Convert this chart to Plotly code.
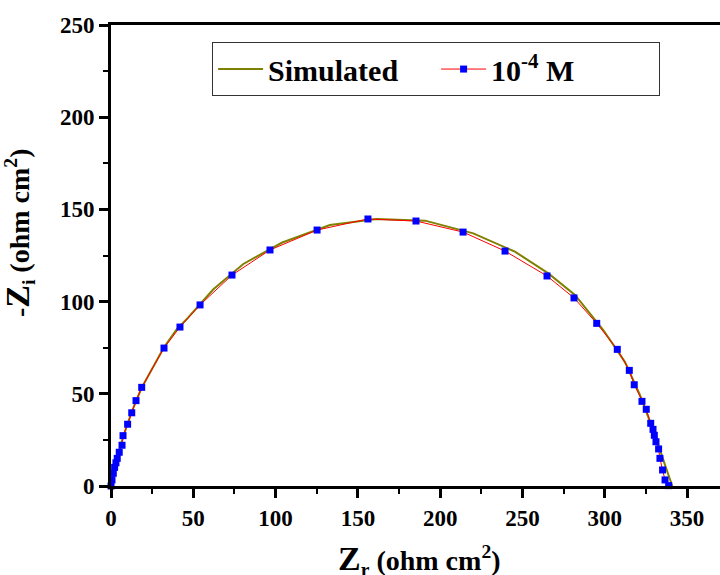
import plotly.graph_objects as go

# Simulated (fit) curve
sim_zr = [0, 3.6, 7.5, 12.5, 18.5, 25.0, 32.0, 40.0, 46.4, 62.2, 80.4, 103.7, 133.0, 161.4, 190.8,
          220.1, 245.4, 265.7, 281.9, 299.1, 312.3, 321.4, 330.5, 336.6, 341.0]
sim_zi = [0, 15.0, 27.0, 40.0, 53.0, 64.0, 75.0, 85.0, 90.9, 106.7, 120.4, 131.9, 141.5, 144.8, 143.9,
          137.0, 127.1, 115.3, 103.6, 84.6, 67.2, 49.3, 27.7, 11.4, 0]

# Experimental data 10^-4 M
exp_zr = [0, 0.6, 1.4, 2.2, 3.0, 3.8, 5.0, 6.7, 7.3, 10.1, 12.6, 15.2, 18.65, 32.2, 41.9,
          54.1, 73.5, 96.6, 125.2, 156.1, 185.3, 213.9, 239.4, 264.9, 281.3, 295.1, 307.6,
          314.9, 317.9, 322.6, 325.2, 327.9, 329.3, 330.1, 331.1, 332.7, 333.5, 335.1, 336.6, 338.8]
exp_zi = [0, 3.3, 6.9, 10.1, 12.6, 15.0, 18.3, 22.1, 27.3, 33.5, 39.7, 46.3, 53.5, 74.8, 86.2,
          98.2, 114.4, 128.0, 138.8, 144.8, 143.7, 137.7, 127.4, 113.9, 102.0, 88.2, 74.1,
          62.7, 54.9, 45.9, 41.6, 34.0, 30.7, 27.5, 24.0, 20.1, 15.0, 8.7, 3.3, 0.2]

x_ticks = [0, 50, 100, 150, 200, 250, 300, 350]
y_ticks = [0, 50, 100, 150, 200, 250]

FONT = "Liberation Serif, Times New Roman, serif"

fig = go.Figure()
fig.add_trace(go.Scatter(x=sim_zr, y=sim_zi, mode="lines", name="<b>Simulated</b>",
                         line=dict(color="#808000", width=2), cliponaxis=False))
fig.add_trace(go.Scatter(x=exp_zr, y=exp_zi, mode="lines+markers", name="<b>10<sup>-4</sup> M</b>",
                         line=dict(color="#FF0000", width=1),
                         marker=dict(symbol="square", size=7, color="#0000FF"),
                         cliponaxis=False))

axis_common = dict(showgrid=False, zeroline=False, showline=True, linecolor="black",
                   linewidth=3, ticks="outside", tickwidth=2.5, tickcolor="black",
                   ticklen=9, mirror=True, automargin=False,
                   tickfont=dict(family=FONT, size=23, color="black"))

fig.update_xaxes(range=[0, 370], tickvals=x_ticks, ticktext=[f"<b>{v}</b>" for v in x_ticks],
                 minor=dict(dtick=25, ticks="outside", ticklen=5, tickwidth=2, tickcolor="black"),
                 **axis_common)
fig.update_yaxes(range=[0, 250], tickvals=y_ticks, ticktext=[f"<b>{v}</b>" for v in y_ticks],
                 minor=dict(dtick=25, ticks="outside", ticklen=5, tickwidth=2, tickcolor="black"),
                 **axis_common)

# Axis titles as annotations for precise placement
fig.add_annotation(
    text="<b><span style='font-size:34px'>Z</span><sub>r</sub> (ohm cm<sup>2</sup>)</b>",
    xref="paper", yref="paper", x=0.506, y=-0.160, xanchor="center", yanchor="middle",
    showarrow=False, font=dict(family=FONT, size=28, color="black"))
fig.add_annotation(
    text="<b>-<span style='font-size:34px'>Z</span><sub>i</sub> (ohm cm<sup>2</sup>)</b>",
    xref="paper", yref="paper", x=-0.15, y=0.55, xanchor="center", yanchor="middle",
    textangle=-90, showarrow=False, font=dict(family=FONT, size=28, color="black"))

fig.update_layout(
    width=720, height=575,
    margin=dict(l=111, r=0, t=25, b=89, autoexpand=False),
    plot_bgcolor="white", paper_bgcolor="white",
    font=dict(family=FONT, color="black"),
    legend=dict(orientation="h", x=0.166, y=0.963, xanchor="left", yanchor="top",
                bgcolor="white", bordercolor="#333333", borderwidth=1,
                font=dict(family=FONT, size=30, color="black"),
                entrywidth=163, itemwidth=45),
)

fig.write_html("out.html", config={"displayModeBar": False},
               post_script="document.body.style.margin='0';")
